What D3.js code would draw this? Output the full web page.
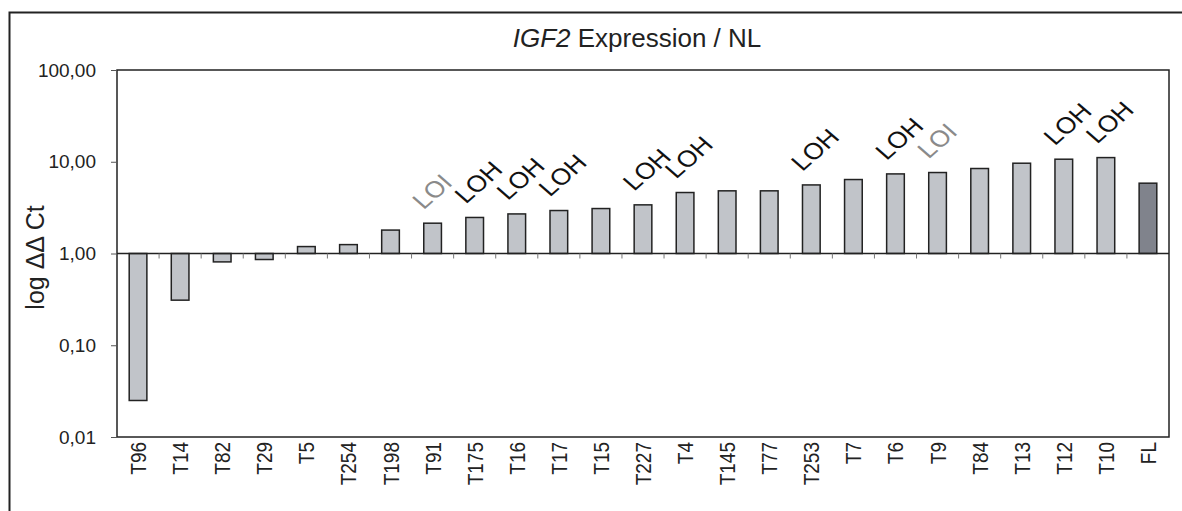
<!doctype html>
<html>
  <head>
    <script src="https://d3js.org/d3.v7.min.js" charset="utf-8"></script>
    <style>
      body { margin: 0; background: #fff; }
      text { font-family: "Liberation Sans", Arial, sans-serif; fill: #222; }
    </style>
  </head>
  <body>
    <script>

// samples along the x axis
var samples = ["T96", "T14", "T82", "T29", "T5", "T254", "T198", "T91", "T175", "T16",
  "T17", "T15", "T227", "T4", "T145", "T77", "T253", "T7", "T6", "T9", "T84", "T13",
  "T12", "T10", "FL"];
// relative expression (log scale, baseline 1)
var expression = [0.025, 0.31, 0.81, 0.86, 1.19, 1.25, 1.80, 2.14, 2.47, 2.70,
  2.94, 3.09, 3.39, 4.62, 4.82, 4.82, 5.59, 6.40, 7.37, 7.63, 8.44, 9.64,
  10.66, 11.1, 5.84];
// annotation above some bars ("" = none)
var marks = ["", "", "", "", "", "", "", "LOI", "LOH", "LOH",
  "LOH", "", "LOH", "LOH", "", "", "LOH", "", "LOH", "LOI", "", "",
  "LOH", "LOH", ""];
var yTicks = [0.01, 0.1, 1, 10, 100];
var yTickLabels = ["0,01", "0,10", "1,00", "10,00", "100,00"];

var W = 1182, H = 511;
var margin = {left: 117, top: 70, right: 12, bottom: 74};
var plotRight = W - margin.right - 1;

var svg = d3.select("body")
  .append("svg")
    .attr("width", W)
    .attr("height", H);

// outer frame (only top and left edges show)
svg.append("path")
  .attr("d", "M9.5," + H + "V12.5H" + W)
  .attr("fill", "none")
  .attr("stroke", "#222")
  .attr("stroke-width", 2);

var x = d3.scaleBand()
  .domain(samples)
  .range([margin.left, plotRight])
  .paddingInner(0.58)
  .paddingOuter(0.29);

var y = d3.scaleLog()
  .domain([0.01, 100])
  .range([H - margin.bottom, margin.top]);

// bars from the 1,00 baseline
svg.selectAll("rect.bar")
  .data(expression)
  .enter()
  .append("rect")
    .attr("class", "bar")
    .attr("x", function(d, i) { return x(samples[i]); })
    .attr("width", x.bandwidth())
    .attr("y", function(d) { return Math.min(y(d), y(1)); })
    .attr("height", function(d) { return Math.abs(y(d) - y(1)); })
    .attr("fill", function(d, i) { return samples[i] == "FL" ? "#80838c" : "#c1c4c9"; })
    .attr("stroke", "#222")
    .attr("stroke-width", 1.5);

// baseline axis at 1,00 with ticks between categories
var edges = d3.range(1, samples.length).map(function(i) {
  return margin.left + i * (plotRight - margin.left) / samples.length;
});
svg.append("line")
  .attr("x1", margin.left).attr("x2", plotRight)
  .attr("y1", y(1)).attr("y2", y(1))
  .attr("stroke", "#222").attr("stroke-width", 1.5);
svg.selectAll("line.xtick")
  .data(edges)
  .enter()
  .append("line")
    .attr("class", "xtick")
    .attr("x1", function(d) { return d; })
    .attr("x2", function(d) { return d; })
    .attr("y1", y(1))
    .attr("y2", y(1) + 5)
    .attr("stroke", "#777");

// plot frame
svg.append("rect")
  .attr("x", margin.left)
  .attr("y", margin.top)
  .attr("width", plotRight - margin.left)
  .attr("height", H - margin.bottom - margin.top)
  .attr("fill", "none")
  .attr("stroke", "#222")
  .attr("stroke-width", 1.5);

// y axis
var yAxis = d3.axisLeft(y)
  .tickValues(yTicks)
  .tickSize(6)
  .tickFormat(function(d, i) { return yTickLabels[i]; });
var gy = svg.append("g")
  .attr("transform", "translate(" + margin.left + ",0)")
  .call(yAxis);
gy.select(".domain").remove();
gy.selectAll("line").attr("stroke", "#555");
gy.selectAll("text")
  .attr("x", -21)
  .style("font-size", "19px")
  .style("font-family", "Liberation Sans, Arial, sans-serif")
  .attr("fill", "#222");

// x labels, rotated (source picture is slightly stretched sideways)
svg.selectAll("text.xlab")
  .data(samples)
  .enter()
  .append("text")
    .attr("class", "xlab")
    .attr("transform", function(d) {
      return "translate(" + (x(d) + x.bandwidth() / 2 + 8) + "," + (H - margin.bottom + 5) + ") scale(1.12,1) rotate(-90)";
    })
    .attr("text-anchor", "end")
    .style("font-size", "19px")
    .text(function(d) { return d; });

// LOH / LOI annotations
svg.selectAll("text.mark")
  .data(samples.filter(function(d, i) { return marks[i] != ""; }))
  .enter()
  .append("text")
    .attr("class", "mark")
    .attr("transform", function(d) {
      var i = samples.indexOf(d);
      return "translate(" + (x(d) + x.bandwidth() / 2 - 9) + "," + (y(expression[i]) - 13) + ") scale(1.15,1) rotate(-45)";
    })
    .style("font-size", "23px")
    .style("fill", function(d) { return marks[samples.indexOf(d)] == "LOI" ? "#8a8a8a" : "#111"; })
    .text(function(d) { return marks[samples.indexOf(d)]; });

// title
var title = svg.append("text")
  .attr("x", (margin.left + plotRight) / 2 - 6)
  .attr("y", 47)
  .attr("text-anchor", "middle")
  .style("font-size", "26px");
title.append("tspan").style("font-style", "italic").text("IGF2");
title.append("tspan").text(" Expression / NL");

// y axis title
svg.append("text")
  .attr("transform", "translate(44," + (y(1) + 4) + ") rotate(-90)")
  .attr("text-anchor", "middle")
  .style("font-size", "25px")
  .text("log \u0394\u0394 Ct");

    </script>
  </body>
</html>
